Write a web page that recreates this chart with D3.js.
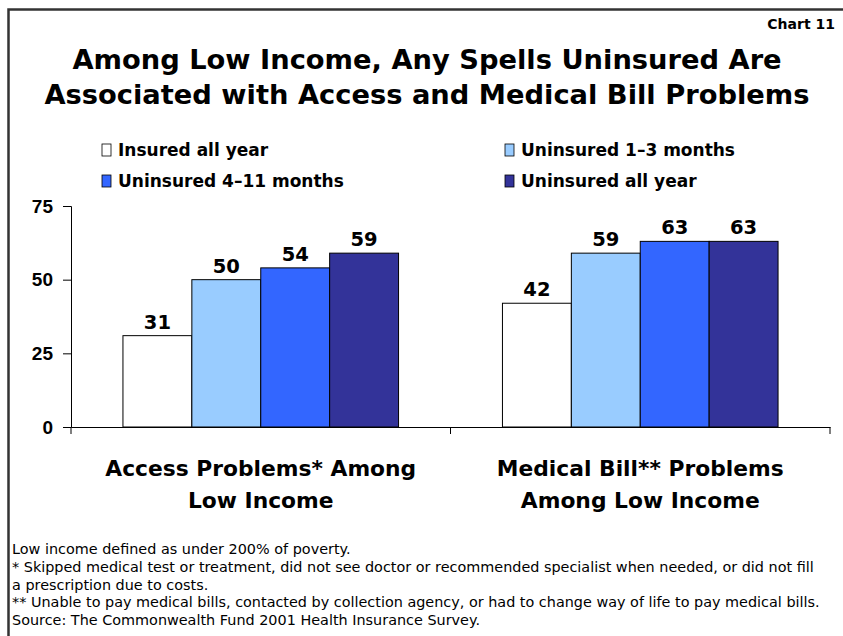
<!DOCTYPE html>
<html>
<head>
<meta charset="utf-8">
<script src="https://cdn.jsdelivr.net/npm/d3@7"></script>
<style>
  body { margin: 0; background: #fff; }
  svg { display: block; font-family: "DejaVu Sans", "Liberation Sans", Arial, sans-serif; }
</style>
</head>
<body>
<div id="chart"></div>
<script>
// data
var categories = [["Access Problems* Among", "Low Income"], ["Medical Bill** Problems", "Among Low Income"]];
var seriesNames = ["Insured all year", "Uninsured 1\u20133 months", "Uninsured 4\u201311 months", "Uninsured all year"];
var seriesColors = ["#ffffff", "#99ccff", "#3366ff", "#333399"];
var accessValues = [31, 50, 54, 59];
var billValues = [42, 59, 63, 63];
var yTicks = [0, 25, 50, 75];
var footnotes = [
    "Low income defined as under 200% of poverty.",
    "* Skipped medical test or treatment, did not see doctor or recommended specialist when needed, or did not fill",
    "a prescription due to costs.",
    "** Unable to pay medical bills, contacted by collection agency, or had to change way of life to pay medical bills.",
    "Source: The Commonwealth Fund 2001 Health Insurance Survey."
];

var width = 843, height = 636;
var svg = d3.select("#chart").append("svg")
    .attr("width", width)
    .attr("height", height);

// frame (runs off the right and bottom edges)
svg.append("rect")
    .attr("x", 8.5).attr("y", 9.5)
    .attr("width", 860).attr("height", 660)
    .attr("fill", "none")
    .attr("stroke", "#333")
    .attr("stroke-width", 2.5);

svg.append("text")
    .attr("x", 835).attr("y", 29)
    .attr("text-anchor", "end")
    .style("font-weight", "bold").style("font-size", "14px")
    .text("Chart 11");

var title = ["Among Low Income, Any Spells Uninsured Are", "Associated with Access and Medical Bill Problems"];
svg.selectAll(".title")
    .data(title)
    .enter().append("text")
    .attr("class", "title")
    .attr("x", 427)
    .attr("y", function(d, i) { return 69 + i * 35; })
    .attr("text-anchor", "middle")
    .style("font-weight", "bold").style("font-size", "27.3px")
    .text(function(d) { return d; });

// legend
var legend = svg.selectAll(".legend")
    .data(seriesNames)
    .enter().append("g")
    .attr("class", "legend")
    .attr("transform", function(d, i) {
        var lx = i % 2 == 0 ? 102 : 505;
        var ly = i < 2 ? 144 : 175;
        return "translate(" + lx + "," + ly + ")";
    });
legend.append("rect")
    .attr("width", 9).attr("height", 12)
    .attr("fill", function(d, i) { return seriesColors[i]; })
    .attr("stroke", "#000").attr("stroke-width", 0.8);
legend.append("text")
    .attr("x", 16).attr("y", 12)
    .style("font-weight", "bold").style("font-size", "17px")
    .text(function(d) { return d; });

// scales
var y = d3.scaleLinear().domain([0, 75]).range([427, 206]);
var x0 = d3.scaleBand().domain([0, 1]).range([71, 830]);
var x1 = d3.scaleBand().domain(d3.range(seriesNames.length))
    .range([0, x0.bandwidth()])
    .paddingOuter(0.754);

var data = [accessValues, billValues];

var yAxis = svg.append("g")
    .attr("transform", "translate(71,0)")
    .call(d3.axisLeft(y).tickValues(yTicks).tickSize(8).tickPadding(10));
yAxis.selectAll("text").style("font-weight", "bold").style("font-size", "19px").attr("fill", "#000");
yAxis.selectAll("line, path").attr("stroke", "#000");

var xAxis = svg.append("g")
    .attr("transform", "translate(0,427)")
    .call(d3.axisBottom(x0).tickValues([]).tickSizeOuter(0));
xAxis.select("path").attr("stroke", "#000");
// category separators
xAxis.selectAll(".sep")
    .data([71, x0(1), 830])
    .enter().append("line")
    .attr("x1", function(d) { return d; }).attr("x2", function(d) { return d; })
    .attr("y1", 0).attr("y2", 7)
    .attr("stroke", "#000");

var groups = svg.selectAll(".group")
    .data(data)
    .enter().append("g")
    .attr("class", "group")
    .attr("transform", function(d, i) { return "translate(" + x0(i) + ",0)"; });

groups.selectAll("rect")
    .data(function(d) { return d; })
    .enter().append("rect")
    .attr("x", function(d, i) { return x1(i); })
    .attr("y", function(d) { return y(d); })
    .attr("width", x1.bandwidth())
    .attr("height", function(d) { return y(0) - y(d); })
    .attr("fill", function(d, i) { return seriesColors[i]; })
    .attr("stroke", "#000").attr("stroke-width", 1);

groups.selectAll(".val")
    .data(function(d) { return d; })
    .enter().append("text")
    .attr("class", "val")
    .attr("x", function(d, i) { return x1(i) + x1.bandwidth() / 2; })
    .attr("y", function(d) { return y(d) - 7; })
    .attr("text-anchor", "middle")
    .style("font-weight", "bold").style("font-size", "19.5px")
    .text(function(d) { return d; });

// category labels
categories.forEach(function(lines, i) {
    lines.forEach(function(line, j) {
        svg.append("text")
            .attr("x", x0(i) + x0.bandwidth() / 2)
            .attr("y", 476 + j * 32)
            .attr("text-anchor", "middle")
            .style("font-weight", "bold").style("font-size", "21.8px")
            .text(line);
    });
});

svg.selectAll(".foot")
    .data(footnotes)
    .enter().append("text")
    .attr("class", "foot")
    .attr("x", 12)
    .attr("y", function(d, i) { return 554 + i * 17.8; })
    .style("font-size", "14.4px")
    .text(function(d) { return d; });
</script>
</body>
</html>
